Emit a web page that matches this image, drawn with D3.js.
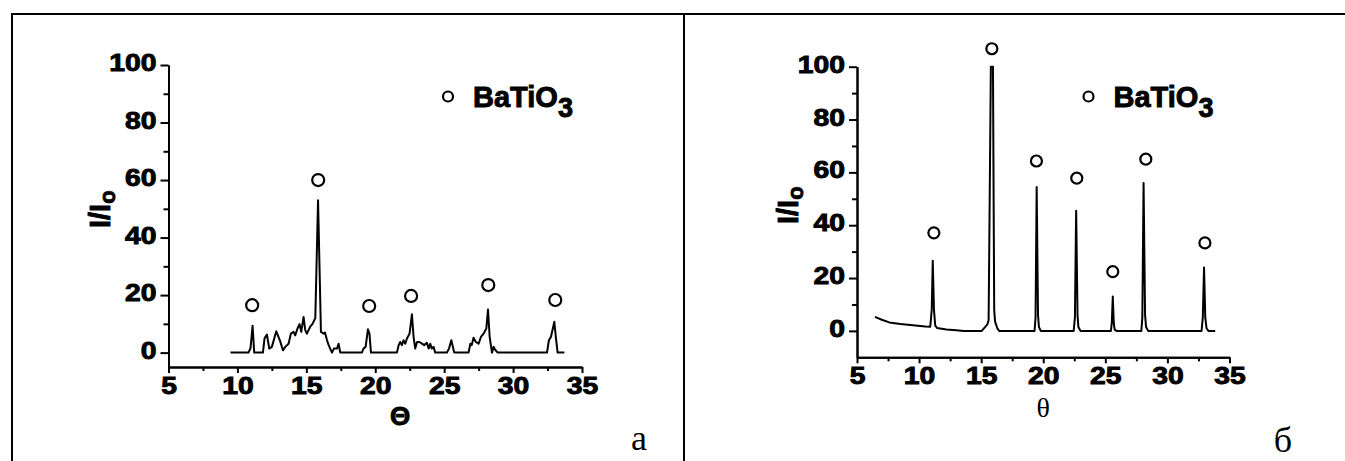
<!DOCTYPE html>
<html>
<head>
<meta charset="utf-8">
<script src="https://cdn.jsdelivr.net/npm/d3@7"></script>
<style>
  body { margin: 0; background: #fff; }
  svg { display: block; }
</style>
</head>
<body>
<div id="chart"></div>
<script>
// XRD patterns of BaTiO3, two panels (a, б)

// panel a: theta / intensity
var thetaA = [9.5, 10.8, 10.95, 11.1, 11.22, 11.85, 11.97, 12.14, 12.31, 12.5, 12.82, 13.1, 13.3, 13.47, 13.71, 13.88,
    14.07, 14.19, 14.36, 14.51, 14.63, 14.8, 14.92, 15.04, 15.28, 15.45, 15.65, 15.85, 16.06, 16.26, 16.35, 16.5,
    16.62, 16.73, 16.86, 17.0, 17.22, 17.34, 17.46, 19.03, 19.15, 19.3, 19.47, 19.58, 19.69, 21.57, 21.7, 21.81,
    21.93, 22.05, 22.18, 22.3, 22.49, 22.66, 22.78, 22.9, 23.03, 23.2, 23.39, 23.55, 23.75, 23.87, 23.99, 24.1,
    24.23, 24.35, 25.2, 25.35, 25.52, 25.73, 26.77, 26.9, 27.0, 27.13, 27.3, 27.5, 27.67, 27.86, 28.06, 28.18,
    28.3, 28.47, 28.59, 28.7, 28.88, 32.46, 32.6, 32.75, 32.99, 33.1, 33.23, 33.72];
var intA = [0, 0, 1.5, 9.3, 0, 0, 5.0, 6.3, 1.4, 2.0, 7.4, 4, 0.8, 2.0, 3.1, 6.6,
    7.2, 6.0, 8.4, 9.9, 7.2, 12.4, 7.8, 6.6, 9.0, 10, 12, 53, 7.2, 6.6, 7.0, 4.3,
    2.6, 1.4, 0, 1.4, 1.4, 3.1, 0, 0, 1.4, 2, 8.1, 6.6, 0, 0, 2.6, 3.7,
    2.6, 4.3, 3.1, 4.9, 6.6, 13.3, 5.5, 1.4, 3.7, 3.7, 3.1, 2.6, 3.4, 1.4, 3.1, 1.4,
    2.0, 0, 0, 1.4, 4.3, 0, 0, 3.1, 2.6, 5.2, 3.7, 3.1, 5.5, 6.6, 8.4, 15.0,
    5.5, 0, 2.0, 1.0, 0, 0, 4.3, 5.5, 10.7, 5.5, 0, 0];
var markThetaA = [11.07, 15.86, 19.56, 22.6, 28.2, 33.06];
var markIntA = [16.5, 60, 16.2, 19.7, 23.5, 18.3];

// panel б
var thetaB = [6.45, 7.0, 7.6, 8.5, 9.5, 10.5, 10.9, 11.02, 11.1, 11.2, 11.3, 11.45, 12.2, 13.0, 13.6,
    15.05, 15.5, 15.6, 15.78, 15.95, 16.05, 16.12, 16.3, 16.45,
    19.3, 19.38, 19.47, 19.58, 19.65, 19.8,
    22.45, 22.55, 22.65, 22.76, 22.83, 23.0,
    25.45, 25.52, 25.6, 25.68, 25.75, 25.9,
    27.9, 27.98, 28.08, 28.2, 28.28, 28.45,
    32.75, 32.85, 32.95, 33.05, 33.15, 33.3, 33.85];
var intB = [5.3, 4.2, 3.2, 2.6, 2.1, 1.7, 1.6, 8, 26.5, 8, 2, 1.1, 0.5, 0.2, 0,
    0, 2.5, 4, 100, 100, 8, 3.5, 1, 0,
    0, 5, 54.5, 6, 1.5, 0,
    0, 5, 45.5, 6, 1.5, 0,
    0, 3, 13, 3, 0.5, 0,
    0, 5, 56, 6, 1.5, 0,
    0, 5, 24, 5, 1, 0, 0];
var markThetaB = [11.19, 15.86, 19.45, 22.7, 25.6, 28.26, 33.02];
var markIntB = [37.1, 106.8, 64.3, 57.8, 22.4, 65, 33.3];

// ticks
var xMajor = [5, 10, 15, 20, 25, 30, 35];
var xMinor = [7.5, 12.5, 17.5, 22.5, 27.5, 32.5];
var yMajor = [0, 20, 40, 60, 80, 100];
var yMinor = [10, 30, 50, 70, 90];

const W = 1345, H = 461,
    sans = "Arial, 'Liberation Sans', sans-serif",
    serif = "'Times New Roman', 'Liberation Serif', serif",
    stretch = 1.18, // tick digits look wider than normal
    heavy = 0.9;    // extra outline, the original type is very heavy

var svg = d3.select("#chart").append("svg")
    .attr("width", W)
    .attr("height", H);

// table frame
var frame = svg.append("g").attr("stroke", "#000").attr("stroke-width", 2);
frame.append("line").attr("x1", 11).attr("x2", W).attr("y1", 14).attr("y2", 14);
frame.append("line").attr("x1", 12).attr("x2", 12).attr("y1", 14).attr("y2", H);
frame.append("line").attr("x1", 684).attr("x2", 684).attr("y1", 14).attr("y2", H);

// bold text with a thin stroke
function boldText(sel, size) {
    return sel.style("font-family", sans)
        .style("font-weight", "bold")
        .style("font-size", size)
        .attr("fill", "#000")
        .attr("stroke", "#000")
        .attr("stroke-width", heavy);
}

// one panel
function panel(p) {
    var x = d3.scaleLinear().domain([5, 35]).range([p.left, p.right]);
    var y = d3.scaleLinear().domain([p.ymin, 100]).range([p.bottom, p.top]);
    var g = svg.append("g");

    // minor ticks first, no labels
    g.append("g")
        .attr("transform", "translate(0," + p.bottom + ")")
        .call(d3.axisBottom(x).tickValues(xMinor).tickSize(4).tickSizeOuter(0).tickFormat(""));
    g.append("g")
        .attr("transform", "translate(" + p.left + ",0)")
        .call(d3.axisLeft(y).tickValues(yMinor).tickSize(5).tickSizeOuter(0).tickFormat(""));

    // major ticks + labels
    var xa = g.append("g")
        .attr("transform", "translate(0," + p.bottom + ")")
        .call(d3.axisBottom(x).tickValues(xMajor).tickSize(6).tickSizeOuter(0).tickFormat(d3.format("d")));
    xa.selectAll("text")
        .attr("y", 27).attr("dy", null)
        .attr("transform", "scale(" + stretch + ",1)");
    var ya = g.append("g")
        .attr("transform", "translate(" + p.left + ",0)")
        .call(d3.axisLeft(y).tickValues(yMajor).tickSize(8).tickSizeOuter(0).tickFormat(d3.format("d")));
    ya.selectAll("text")
        .attr("x", -12 / stretch).attr("y", 5.5).attr("dy", null)
        .attr("transform", "scale(" + stretch + ",1)");

    g.selectAll(".domain, .tick line")
        .attr("stroke", "#000")
        .attr("stroke-width", 2);
    boldText(g.selectAll(".tick text"), "24px");

    // pattern
    var pts = d3.zip(p.tx, p.iy);
    g.append("path")
        .datum(pts)
        .attr("fill", "none")
        .attr("stroke", "#000")
        .attr("stroke-width", 2)
        .attr("stroke-linejoin", "round")
        .attr("d", d3.line().x(d => x(d[0])).y(d => y(d[1])));

    // BaTiO3 reflections
    g.selectAll("circle.mark")
        .data(d3.zip(p.mx, p.my))
        .enter().append("circle")
        .attr("class", "mark")
        .attr("cx", d => x(d[0]))
        .attr("cy", d => y(d[1]))
        .attr("r", p.mr)
        .attr("fill", "#fff")
        .attr("stroke", "#000")
        .attr("stroke-width", 2.2);

    // legend
    g.append("circle")
        .attr("cx", p.legX).attr("cy", p.legY)
        .attr("r", 5)
        .attr("fill", "#fff").attr("stroke", "#000").attr("stroke-width", 2.2);
    var lt = boldText(g.append("text"), "29px")
        .attr("x", p.legX + 25).attr("y", p.legY + 10)
        .text("BaTiO");
    lt.append("tspan").attr("dy", 10).style("font-size", "27px").text("3");

    // y title
    var yt = boldText(g.append("text"), "29px")
        .attr("transform", "translate(" + (p.left - 59) + "," + p.ytStart + ") rotate(-90)")
        .text("I/I");
    yt.append("tspan").attr("dy", 5).style("font-size", "22px").text("o");

    // x title
    var xt = g.append("text")
        .attr("x", x(p.xtAt)).attr("y", p.bottom + p.xtDy)
        .attr("text-anchor", "middle")
        .style("font-family", p.xtFont).style("font-weight", p.xtWeight).style("font-size", p.xtSize)
        .text(p.xtText);
    if (p.xtWeight == "bold") xt.attr("stroke", "#000").attr("stroke-width", heavy);

    // panel letter
    g.append("text")
        .attr("x", p.letX).attr("y", p.letY)
        .attr("text-anchor", "middle")
        .style("font-family", serif).style("font-size", "36px")
        .text(p.letter);
}

panel({
    left: 168.5, right: 582, top: 65, bottom: 367, ymin: -5,
    tx: thetaA, iy: intA, mx: markThetaA, my: markIntA, mr: 6,
    legX: 448, legY: 96.5, ytStart: 228,
    xtAt: 21.8, xtDy: 58, xtText: "\u0398", xtFont: sans, xtWeight: "bold", xtSize: "26px",
    letX: 639, letY: 450, letter: "a"
});

panel({
    left: 857, right: 1229.5, top: 66.7, bottom: 357.3, ymin: -10,
    tx: thetaB, iy: intB, mx: markThetaB, my: markIntB, mr: 5.5,
    legX: 1088.5, legY: 96.5, ytStart: 224,
    xtAt: 20, xtDy: 60, xtText: "\u03b8", xtFont: serif, xtWeight: "normal", xtSize: "28px",
    letX: 1283, letY: 452, letter: "\u0431"
});
</script>
</body>
</html>
